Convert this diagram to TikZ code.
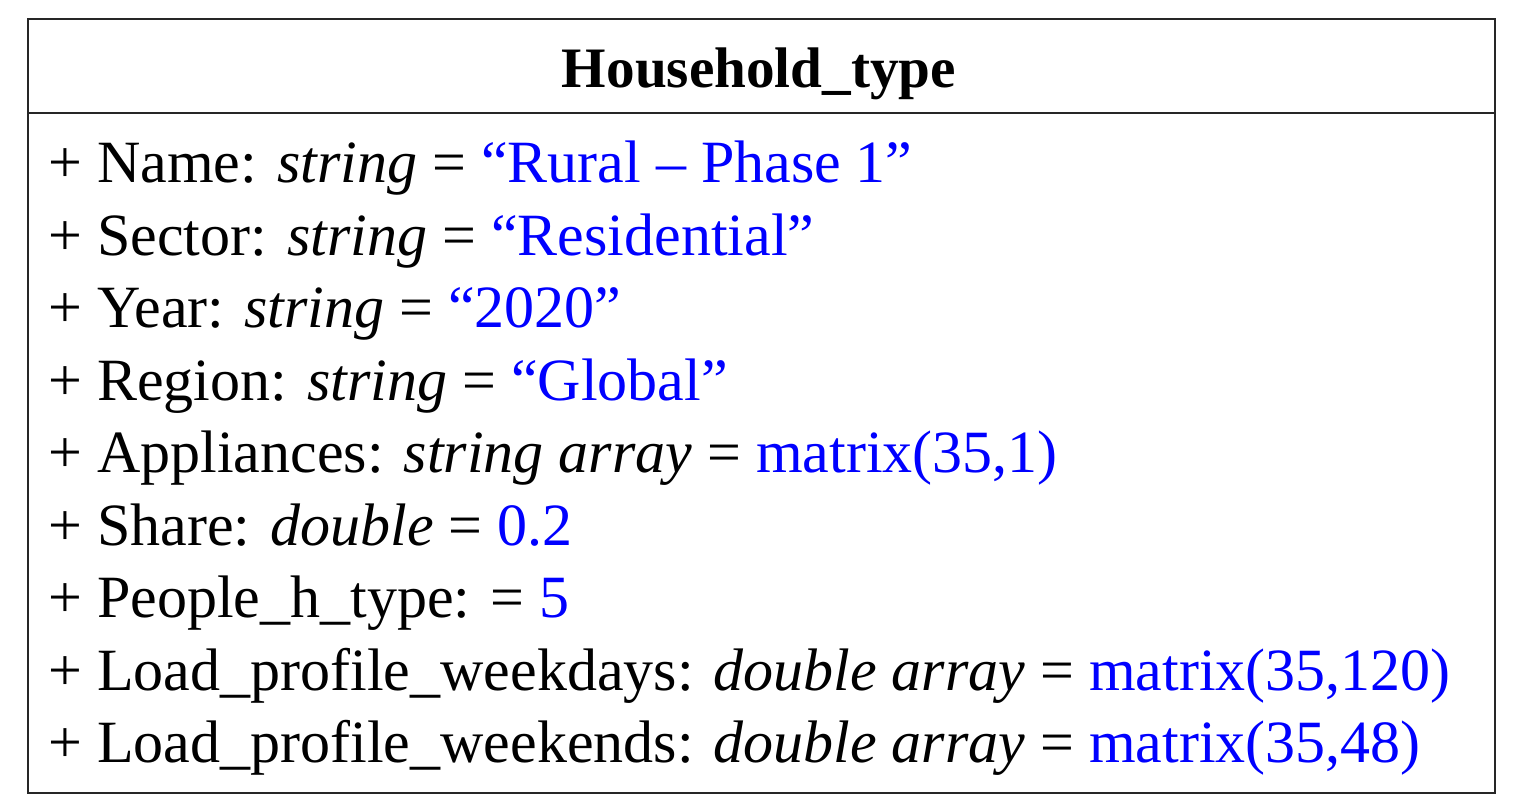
\documentclass[tikz,border=0pt]{standalone}
\usepackage{fontspec}
\setmainfont{Liberation Serif}
\definecolor{valblue}{RGB}{0,0,255}
\begin{document}
\begin{tikzpicture}[x=0.5pt,y=-0.5pt,
  attr/.style={anchor=base west,inner sep=0pt,font=\fontsize{30}{32}\selectfont},
  ttl/.style={anchor=base,inner sep=0pt,font=\fontsize{28.6}{32}\selectfont\bfseries},
  boxline/.style={line width=1pt,draw=black!85}]
\useasboundingbox (0,0) rectangle (1520,808);
\node[boxline,draw,minimum width=733.5pt,minimum height=387pt,anchor=north west,inner sep=0pt] (box) at (27,18) {};
\coordinate (hl) at (27,113);
\coordinate (hr) at (1494,113);
\draw[boxline] (hl) -- (hr);
\node[ttl] (title) at (759,88) {Household\_type};
\node[attr] (a1) at (48,182) {+ Name: \textit{string} = \textcolor{valblue}{“Rural – Phase 1”}};
\node[attr] (a2) at (48,255) {+ Sector: \textit{string} = \textcolor{valblue}{“Residential”}};
\node[attr] (a3) at (48,327) {+ Year: \textit{string} = \textcolor{valblue}{“2020”}};
\node[attr] (a4) at (48,400) {+ Region: \textit{string} = \textcolor{valblue}{“Global”}};
\node[attr] (a5) at (48,472) {+ Appliances: \textit{string array} = \textcolor{valblue}{matrix(35,1)}};
\node[attr] (a6) at (48,545) {+ Share: \textit{double} = \textcolor{valblue}{0.2}};
\node[attr] (a7) at (48,617) {+ People\_h\_type: = \textcolor{valblue}{5}};
\node[attr] (a8) at (48,690) {+ Load\_profile\_weekdays: \textit{double array} = \textcolor{valblue}{matrix(35,120)}};
\node[attr] (a9) at (48,762) {+ Load\_profile\_weekends: \textit{double array} = \textcolor{valblue}{matrix(35,48)}};
\end{tikzpicture}
\end{document}
